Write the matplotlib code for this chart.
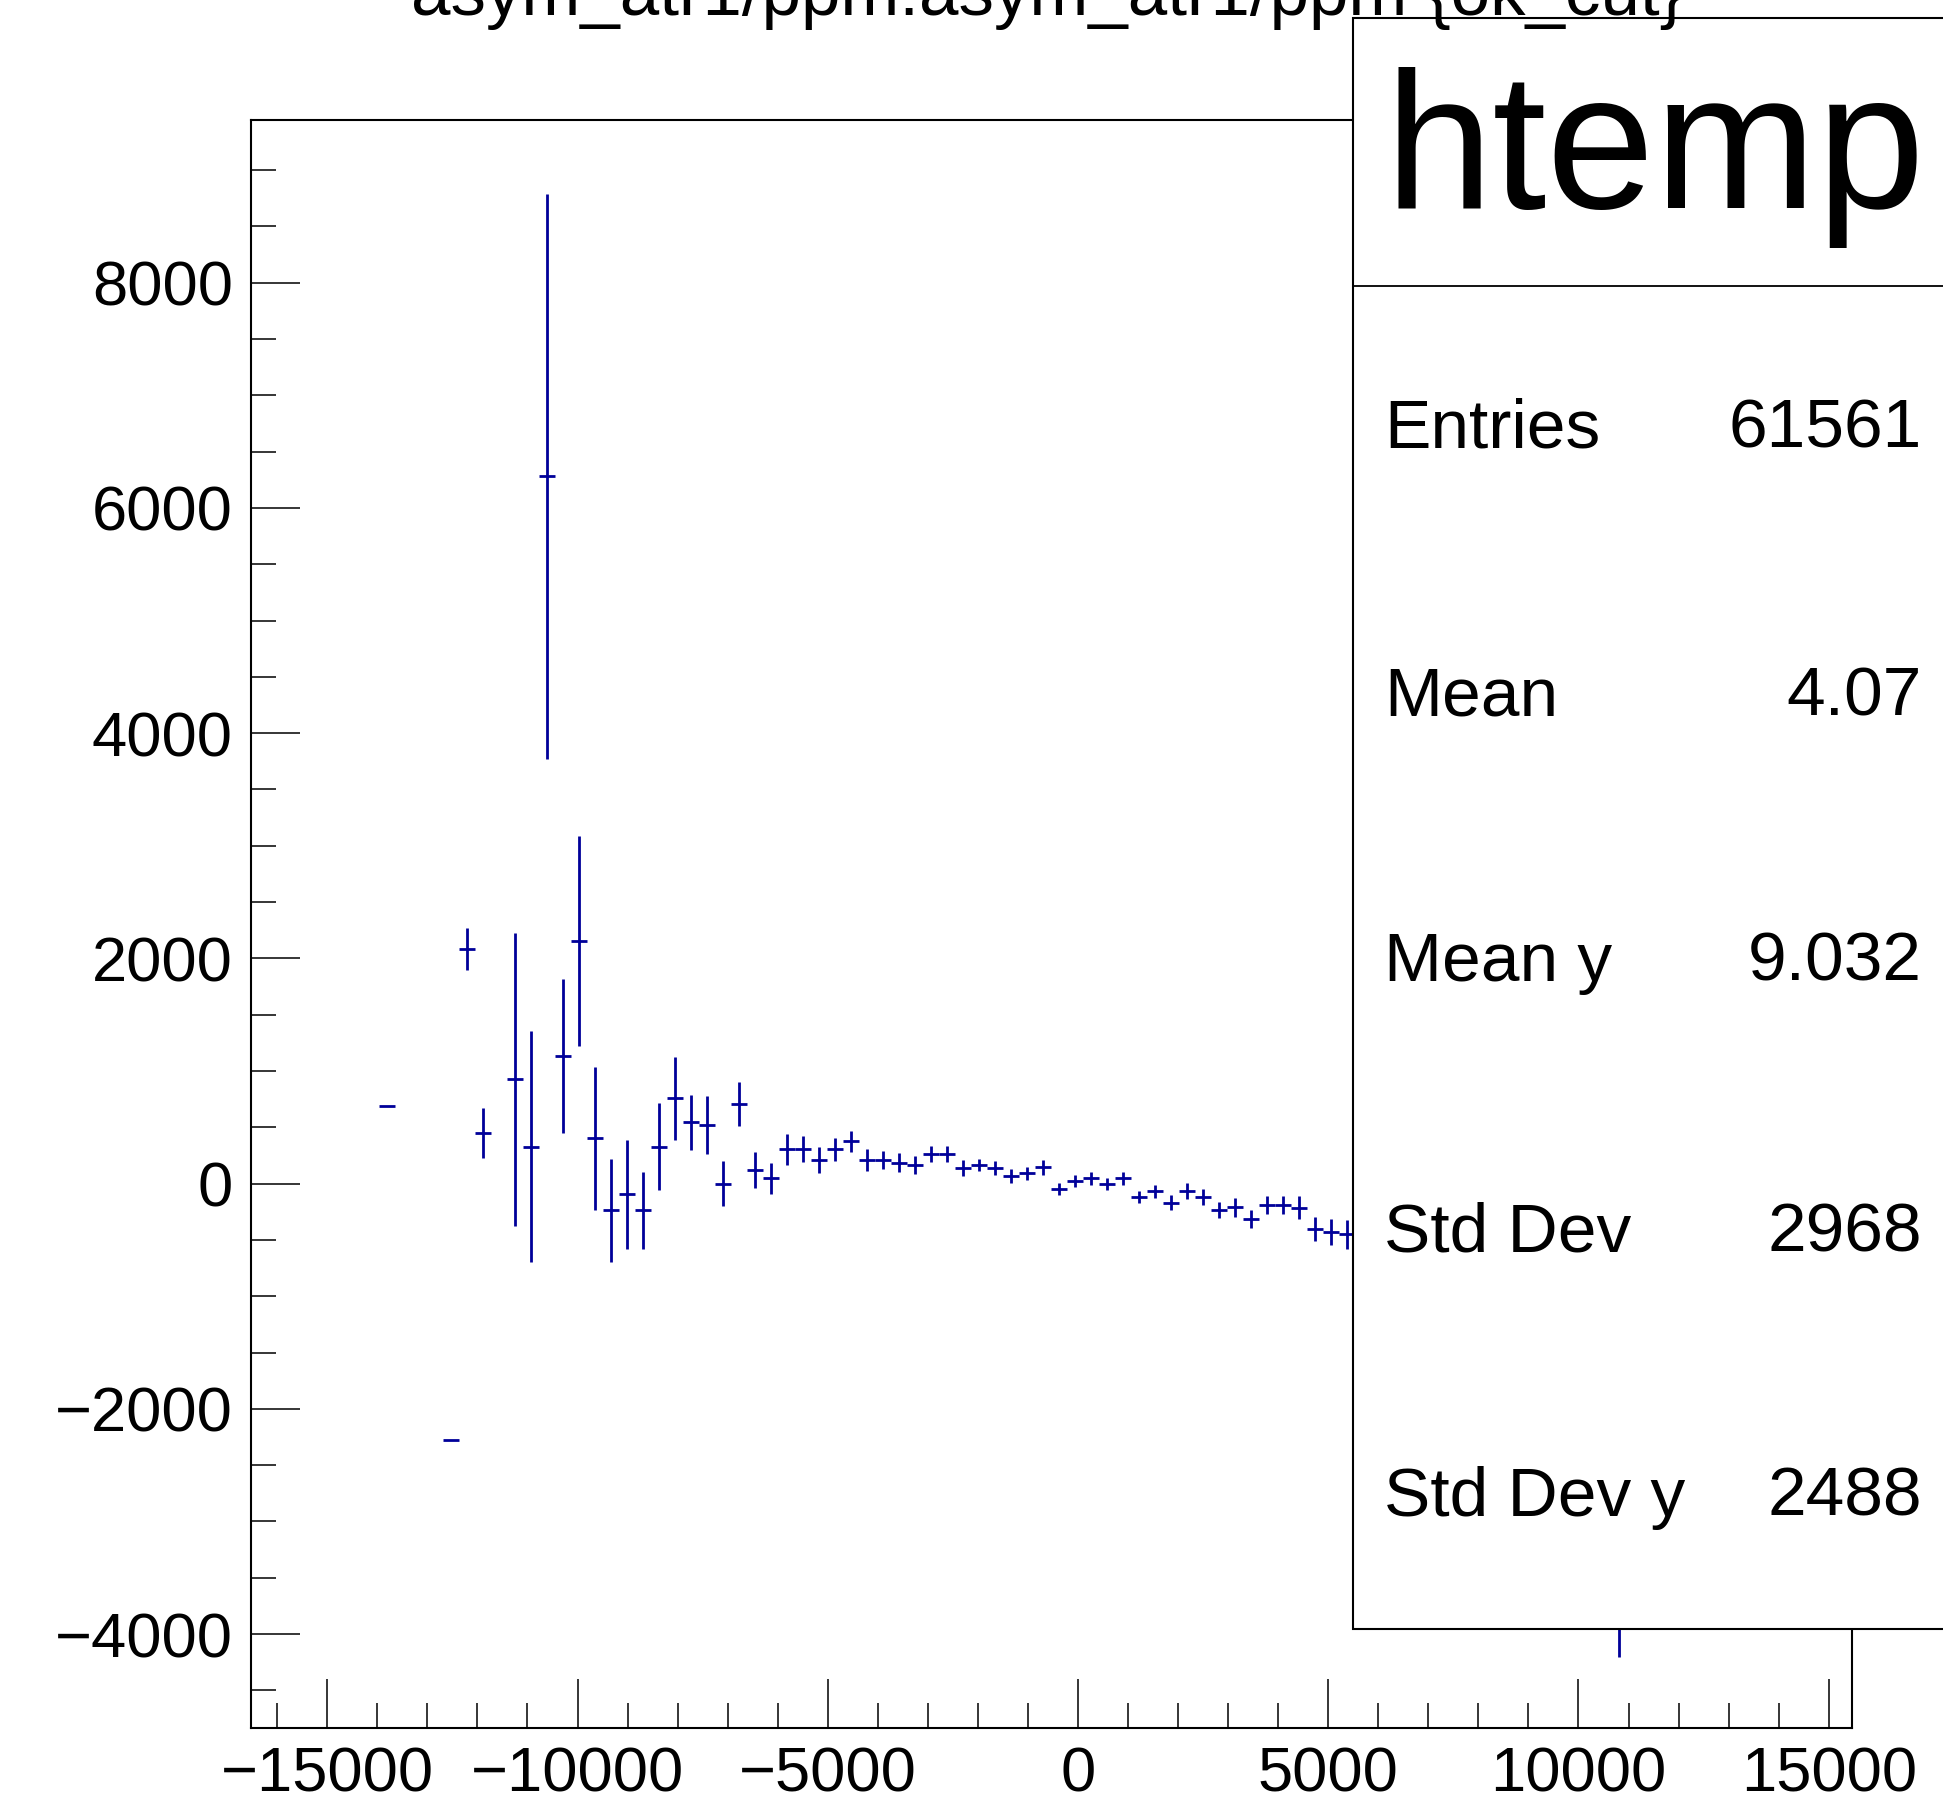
import numpy as np
import matplotlib
matplotlib.use("Agg")
import matplotlib.pyplot as plt
from matplotlib.patches import Rectangle
from matplotlib.lines import Line2D
from matplotlib.ticker import MultipleLocator

# ---------------------------------------------------------------------------
# profile data (ROOT TProfile, 100 bins)
# ---------------------------------------------------------------------------
X_MIN, X_MAX = -16524.0, 15455.0
N_BINS = 100

bin_index = [8, 12, 13, 14, 16, 17, 18, 19, 20, 21, 22, 23, 24, 25, 26, 27,
             28, 29, 30, 31, 32, 33, 34, 35, 36, 37, 38, 39, 40, 41, 42, 43,
             44, 45, 46, 47, 48, 49, 50, 51, 52, 53, 54, 55, 56, 57, 58, 59,
             60, 61, 62, 63, 64, 65, 66, 67, 68, 85]
bin_mean = [688, -2278, 2083, 451, 925, 327, 6280, 1135, 2154, 401, -238, -96,
            -238, 327, 757, 543, 522, -2, 709, 120, 46, 306, 306, 209, 306, 377,
            209, 209, 185, 164, 262, 262, 140, 164, 140, 69, 90, 144, -49, 22,
            46, -2, 46, -120, -70, -168, -67, -123, -235, -212, -315, -191,
            -191, -215, -404, -428, -451, -2900]
bin_err = [0, 0, 188, 222, 1300, 1027, 2508, 684, 932, 637, 459, 484, 340, 388,
           366, 247, 256, 200, 197, 163, 136, 138, 114, 115, 102, 93, 99, 81,
           84, 78, 70, 70, 70, 56, 64, 62, 59, 67, 52, 56, 59, 55, 59, 56, 59,
           64, 74, 71, 73, 81, 80, 77, 80, 101, 105, 115, 126, 1300]

title = "asym_atr1/ppm:asym_atr1/ppm {ok_cut}"
stat_names = ["Entries", "Mean", "Mean y", "Std Dev", "Std Dev y"]
stat_values = ["61561", "4.07", "9.032", "2968", "2488"]

LINE_COLOR = "#000099"
W, H = 1943, 1796

plt.rcParams["font.family"] = ["Liberation Sans", "DejaVu Sans"]

fig = plt.figure(figsize=(W / 100, H / 100), dpi=100)
ax = fig.add_axes([251 / W, 1 - 1727.5 / H, (1851.5 - 251) / W, (1727.5 - 120.2) / H])

bin_w = (X_MAX - X_MIN) / N_BINS
x = X_MIN + (np.array(bin_index) + 0.5) * bin_w
ax.errorbar(x, bin_mean, xerr=bin_w / 2, yerr=bin_err, fmt="none",
            ecolor=LINE_COLOR, elinewidth=2.0, capsize=0)

ax.set_xlim(X_MIN, X_MAX)
ax.set_ylim(-4830, 9443)
ax.xaxis.set_major_locator(MultipleLocator(5000))
ax.xaxis.set_minor_locator(MultipleLocator(1000))
ax.yaxis.set_major_locator(MultipleLocator(2000))
ax.yaxis.set_minor_locator(MultipleLocator(500))
ax.tick_params(which="both", direction="in", width=1.1, labelsize=45.5,
               top=False, right=False)
ax.tick_params(which="major", length=35)
ax.tick_params(which="minor", length=18)
ax.tick_params(axis="y", pad=13)
ax.tick_params(axis="x", pad=13)
for sp in ax.spines.values():
    sp.set_linewidth(1.5)

# stats box (sticks out past the right edge like in the ROOT canvas)
box_l, box_t, box_b = 1352.7, 18.0, 1629.3
fig.add_artist(Rectangle((box_l / W, 1 - box_b / H), (W + 20 - box_l) / W,
                         (box_b - box_t) / H, transform=fig.transFigure,
                         facecolor="white", edgecolor="black", lw=1.5, zorder=5))
fig.add_artist(Line2D([box_l / W, 1.01], [1 - 286 / H, 1 - 286 / H],
                      transform=fig.transFigure, color="black", lw=1.3, zorder=6))
fig.text(1384 / W, 1 - 208 / H, "htemp", fontsize=140, ha="left",
         va="baseline", zorder=7)
row_base = [447, 715, 981, 1252, 1516]
for name, val, yb in zip(stat_names, stat_values, row_base):
    fig.text(1384 / W, 1 - yb / H, name, fontsize=50, ha="left",
             va="baseline", zorder=7)
    fig.text(1922 / W, 1 - yb / H, val, fontsize=50, ha="right",
             va="baseline", zorder=7)

fig.text(1047 / W, 1 - 15 / H, title, fontsize=51, ha="center",
         va="baseline", zorder=10)

fig.savefig("out.png", dpi=100)
